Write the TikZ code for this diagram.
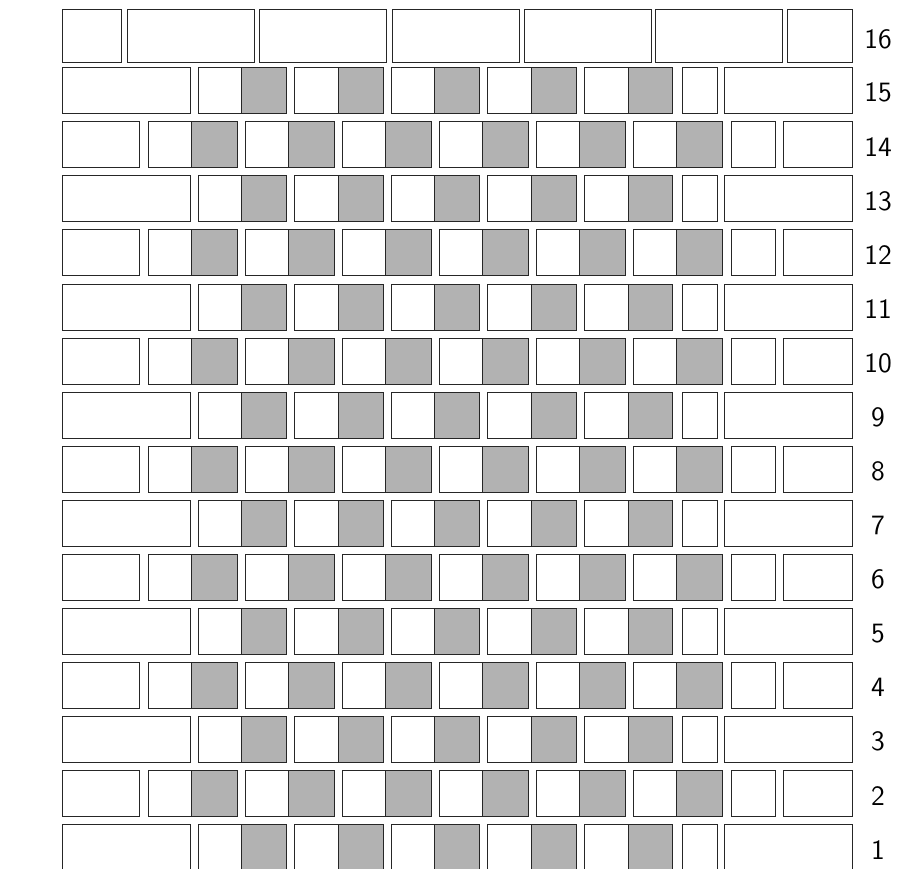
\documentclass[tikz,border=0pt]{standalone}
\usetikzlibrary{positioning}
\tikzset{
  cell/.style   ={draw=black!85,line width=0.5pt,fill=white},
  shd/.style    ={cell,fill=black!30},
  rowlab/.style ={font=\sffamily\fontsize{14}{17}\selectfont,inner sep=0pt},
}
\begin{document}
\begin{tikzpicture}[x=0.5pt,y=-0.5pt]
\useasboundingbox (0,0) rectangle (913,868);
\clip (0,0) rectangle (913,868);
%% top row (16)
\foreach \a/\b in {62/121,127/254,259.5/386,392/519,524/651.7,655.7/782.7,787.3/852}
  \draw[cell] (\a,9) rectangle (\b,62.7);
\node[rowlab] (l16) at (878,39) {16};
%% rows 1--15
\foreach \k in {1,...,15}{%
  \pgfmathsetmacro{\t}{67.7+(15-\k)*54.09}
  \pgfmathsetmacro{\bt}{\t+46}
  \ifodd\k
    \draw[cell] (62,\t) rectangle (190,\bt);
    \foreach \j in {0,...,4}{%
      \pgfmathsetmacro{\xa}{198+\j*96.6}
      \draw[cell] (\xa,\t) rectangle ++(43.7,46);
      \draw[shd]  (\xa+43.7,\t) rectangle ++(44.8,46);
    }
    \draw[cell] (682,\t) rectangle (717,\bt);
    \draw[cell] (724,\t) rectangle (852,\bt);
  \else
    \draw[cell] (62,\t) rectangle (139.3,\bt);
    \foreach \j in {0,...,5}{%
      \pgfmathsetmacro{\xa}{148.3+\j*97}
      \draw[cell] (\xa,\t) rectangle ++(43.4,46);
      \draw[shd]  (\xa+43.4,\t) rectangle ++(45.3,46);
    }
    \draw[cell] (731.7,\t) rectangle (775.3,\bt);
    \draw[cell] (783.3,\t) rectangle (852,\bt);
  \fi
  \node[rowlab] (l\k) at (878,\t+25) {\k};
}
\end{tikzpicture}
\end{document}
